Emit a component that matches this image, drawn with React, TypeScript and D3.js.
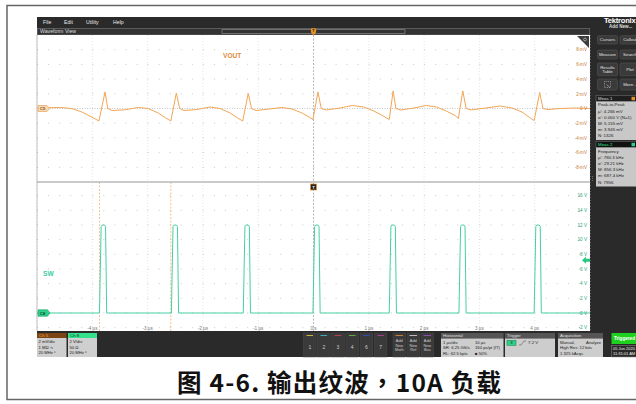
import React from 'react';
import * as d3 from 'd3';

// tick labels
const timeTicks = [-4, -3, -2, -1, 0, 1, 2, 3, 4];
const timeLabels = ['-4 µs', '-3 µs', '-2 µs', '-1 µs', '0 s', '1 µs', '2 µs', '3 µs', '4 µs'];
const voutTicks = [8, 6, 4, 2, 0, -2, -4, -6, -8];
const voutLabels = ['8 mV', '6 mV', '4 mV', '2 mV', '0 V', '-2 mV', '-4 mV', '-6 mV', '-8 mV'];
const swTicks = [16, 14, 12, 10, 8, 6, 4, 2, 0, -2];
const swLabels = ['16 V', '14 V', '12 V', '10 V', '8 V', '6 V', '4 V', '2 V', '0 V', '-2 V'];

// VOUT (Ch 5), [µs, mV]
const voutTrace: [number, number][] = [
    [-5.0, 0], [-4.8, 0.1], [-4.58, 0.14], [-4.37, 0], [-4.19, -0.48], [-4.01, -1.16], [-3.88, -1.7],
    [-3.77, 2.25], [-3.72, 0], [-3.64, -0.27], [-3.41, -0.18], [-3.17, 0.14], [-2.99, 0], [-2.81, -0.6], [-2.67, -1.3], [-2.58, -1.7],
    [-2.48, 2.1], [-2.42, 0], [-2.34, -0.27], [-2.11, -0.14], [-1.87, 0.2], [-1.69, 0], [-1.51, -0.6], [-1.37, -1.3], [-1.28, -1.7],
    [-1.18, 2.05], [-1.12, 0], [-1.04, -0.27], [-0.79, -0.07], [-0.57, 0.14], [-0.39, -0.07], [-0.21, -0.6], [-0.08, -1.16], [-0.01, -1.5],
    [0.08, 2.25], [0.14, 0], [0.23, -0.2], [0.48, 0.07], [0.7, 0.41], [0.91, 0.2], [1.09, -0.34], [1.26, -1.02], [1.37, -1.5],
    [1.44, 2.39], [1.49, 0], [1.58, -0.2], [1.82, 0.07], [2.04, 0.41], [2.23, 0.2], [2.4, -0.34], [2.56, -0.95], [2.62, -1.36],
    [2.7, 2.39], [2.76, 0], [2.85, -0.2], [3.12, 0.07], [3.37, 0.34], [3.59, 0.07], [3.77, -0.48], [3.91, -1.23], [3.99, -1.64],
    [4.09, 2.18], [4.15, 0], [4.24, -0.14], [4.46, 0], [4.73, 0.07], [5.0, 0],
];

// SW (Ch 8), [µs, V]
const swTrace: [number, number][] = [
    [-5.0, 0],
    [-3.87, 0], [-3.84, 11.8], [-3.82, 12], [-3.78, 12], [-3.76, 11.8], [-3.74, 0],
    [-2.57, 0], [-2.54, 11.8], [-2.52, 12], [-2.48, 12], [-2.46, 11.8], [-2.44, 0],
    [-1.27, 0], [-1.24, 11.8], [-1.22, 12], [-1.18, 12], [-1.16, 11.8], [-1.14, 0],
    [-0.01, 0], [0.02, 11.8], [0.04, 12], [0.08, 12], [0.1, 11.8], [0.12, 0],
    [1.37, 0], [1.4, 11.8], [1.42, 12], [1.46, 12], [1.48, 11.8], [1.5, 0],
    [2.63, 0], [2.66, 11.8], [2.68, 12], [2.72, 12], [2.74, 11.8], [2.76, 0],
    [3.99, 0], [4.02, 11.8], [4.04, 12], [4.08, 12], [4.1, 11.8], [4.12, 0],
    [5.0, 0],
];

const gateMarks = [-3.87, -2.58];
const triggerLevel = 7.2;

const menuItems = ['File', 'Edit', 'Utility', 'Help'];
const panelButtons = [['Cursors', 'Callout'], ['Measure', 'Search'], ['Results|Table', 'Plot'], ['', 'More...']];
const meas1Lines = ['Peak-to-Peak', "µ': 4.266 mV", "σ': 0.000 V (N=1)", 'M: 5.155 mV', 'm: 3.945 mV', 'N: 1326'];
const meas2Lines = ['Frequency', "µ': 780.3 kHz", "σ': 29.21 kHz", 'M: 856.3 kHz', 'm: 687.4 kHz', 'N: 7956'];
const ch5Lines = ['2 mV/div', '1 MΩ  ∿', '20 MHz  ⁿ'];
const ch8Lines = ['2 V/div', '50 Ω', '20 MHz  ⁿ'];
const chanButtons = [
    { label: '1', color: '#e8d040' }, { label: '2', color: '#3cc8d8' }, { label: '3', color: '#d84058' },
    { label: '4', color: '#70c040' }, { label: '6', color: '#3050d0' }, { label: '7', color: '#c040a8' },
];
const addButtons = [{ label: 'Math', color: '#e89030' }, { label: 'Ref', color: '#dddddd' }, { label: 'Bus', color: '#a050d0' }];
const horizLines = [['1 µs/div', '10 µs'], ['SR: 6.25 GS/s', '160 ps/pt (IT)'], ['RL: 62.5 kpts', '■ 50%']];
const acqLines = ['High Res: 12 bits', '1.325 kAcqs'];

const UI = 'Liberation Sans, Arial, sans-serif';

export default function App() {
    const L = 37, R = 590, T = 35, MID = 182, B = 331;

    const x = d3.scaleLinear().domain([-5, 5]).range([L, R]);
    const yV = d3.scaleLinear().domain([-10, 10]).range([MID, T]);
    const yS = d3.scaleLinear().domain([0, 12]).range([313, 225]);

    const lineV = d3.line<[number, number]>().x(d => x(d[0])).y(d => yV(d[1]));
    const lineS = d3.line<[number, number]>().x(d => x(d[0])).y(d => yS(d[1]));

    const vGrid = d3.range(-5, 5.01, 1);
    const hGridV = d3.range(-8, 8.01, 2);
    const hGridS = d3.range(-2, 16.01, 2);

    return (
        <svg width={636} height={404} style={{ position: 'absolute', left: 0, top: 0, background: '#fff' }}>
            <defs>
                <clipPath id="clipTop"><rect x={L} y={T} width={R - L} height={MID - T} /></clipPath>
                <clipPath id="clipBot"><rect x={L} y={MID} width={R - L} height={B - MID} /></clipPath>
            </defs>

            {/* figure frame */}
            <rect x={7} y={5.5} width={640} height={394} fill="none" stroke="#666" strokeWidth={1.5} />

            {/* scope screen background */}
            <rect x={L} y={17} width={636 - L} height={340} fill="#2a2a2a" />
            {menuItems.map((m, i) => (
                <text key={m} x={[43, 64, 86, 113][i]} y={24} fontSize={5.2} fill="#e8e8e8" fontFamily={UI}>{m}</text>
            ))}
            <rect x={L + 0.5} y={28.5} width={R - L - 1} height={6.5} fill="#333" stroke="#7a7a7a" strokeWidth={0.6} />
            <text x={40} y={33.2} fontSize={5.2} fill="#ddd" fontFamily={UI}>Waveform View</text>
            <rect x={222} y={29.7} width={183} height={3.6} fill="none" stroke="#999" strokeWidth={0.6} />

            {/* plot area */}
            <rect x={L} y={T} width={R - L} height={B - T} fill="#fff" />

            {/* grid */}
            {vGrid.map(t => (
                <line key={'vg' + t} x1={x(t)} x2={x(t)} y1={T} y2={B}
                    stroke={t === 0 ? '#9a9a9a' : '#d4d4d4'} strokeWidth={t === 0 ? 0.7 : 0.6}
                    strokeDasharray={t === 0 ? '2,1.5' : '1,2'} />
            ))}
            {hGridV.map(v => (
                <line key={'hv' + v} x1={L} x2={R} y1={yV(v)} y2={yV(v)}
                    stroke={v === 0 ? '#aaa' : '#c4c4c4'} strokeWidth={v === 0 ? 0.7 : 0.9}
                    strokeDasharray={v === 0 ? '1,1.5' : '1,10.06'} />
            ))}
            {hGridS.map(v => (
                <line key={'hs' + v} x1={L} x2={R} y1={yS(v)} y2={yS(v)}
                    stroke="#c4c4c4" strokeWidth={0.9} strokeDasharray="1,10.06" />
            ))}

            {/* gating markers in lower pane */}
            {gateMarks.map(t => (
                <line key={'gm' + t} x1={x(t)} x2={x(t)} y1={MID} y2={B}
                    stroke="#f0a860" strokeWidth={0.7} strokeDasharray="2,1.5" />
            ))}

            {/* pane separator */}
            <line x1={L} x2={R} y1={MID} y2={MID} stroke="#b8b8b8" strokeWidth={1.5} />
            <line x1={L} x2={L} y1={T} y2={B} stroke="#999" strokeWidth={0.6} />

            {/* traces */}
            <path d={lineV(voutTrace) || ''} fill="none" stroke="#f3a656" strokeWidth={1} clipPath="url(#clipTop)" />
            <path d={lineS(swTrace) || ''} fill="none" stroke="#45cfa5" strokeWidth={1} clipPath="url(#clipBot)" />

            {/* axis labels */}
            {voutTicks.map((v, i) => (
                <text key={'vl' + v} x={587} y={yV(v) + 1.7} fontSize={4.6} textAnchor="end" fill="#c87a30" fontFamily={UI}>{voutLabels[i]}</text>
            ))}
            {swTicks.map((v, i) => (
                <text key={'sl' + v} x={587} y={yS(v) + 1.7} fontSize={4.6} textAnchor="end" fill="#2a9f80" fontFamily={UI}>{swLabels[i]}</text>
            ))}
            {timeTicks.map((t, i) => (
                <text key={'tl' + t} x={x(t)} y={329.8} fontSize={4.6} textAnchor="middle" fill="#777" fontFamily={UI}>{timeLabels[i]}</text>
            ))}

            <text x={223} y={58} fontSize={6.6} fontWeight="bold" fill="#e08a3a" fontFamily={UI}>VOUT</text>
            <text x={43} y={275.5} fontSize={6.6} fontWeight="bold" fill="#3cc9a0" fontFamily={UI}>SW</text>

            {/* channel markers */}
            <polygon points={`38,${yV(0) - 3} 47,${yV(0) - 3} 49.5,${yV(0)} 47,${yV(0) + 3} 38,${yV(0) + 3}`} fill="#f8d9b0" stroke="#e09a50" strokeWidth={0.6} />
            <text x={40} y={yV(0) + 1.5} fontSize={4} fontWeight="bold" fill="#7a4a18" fontFamily={UI}>C5</text>
            <polygon points={`38,${yS(0) - 3.2} 47.5,${yS(0) - 3.2} 50,${yS(0)} 47.5,${yS(0) + 3.2} 38,${yS(0) + 3.2}`} fill="#2fd18c" stroke="#1a9a60" strokeWidth={0.6} />
            <text x={40} y={yS(0) + 1.5} fontSize={4} fontWeight="bold" fill="#0c4a2a" fontFamily={UI}>C8</text>

            {/* trigger level */}
            {(() => {
                const ty = yS(triggerLevel);
                return <polygon points={`582,${ty} 586,${ty - 3.5} 586,${ty - 1.5} 590,${ty - 1.5} 590,${ty + 1.5} 586,${ty + 1.5} 586,${ty + 3.5}`} fill="#22c97e" />;
            })()}

            {/* trigger position markers */}
            <rect x={x(0) - 2.6} y={28.3} width={5.2} height={4.6} rx={1} fill="#e8902a" />
            <text x={x(0)} y={32} fontSize={3.8} textAnchor="middle" fontWeight="bold" fill="#3a2000" fontFamily={UI}>T</text>
            <polygon points={`${x(0) - 2},32.8 ${x(0) + 2},32.8 ${x(0)},35.5`} fill="#e8902a" />
            <rect x={x(0) - 3} y={184} width={6} height={6} fill="#222" stroke="#e8902a" strokeWidth={0.7} />
            <text x={x(0)} y={188.6} fontSize={4.2} textAnchor="middle" fontWeight="bold" fill="#fff" fontFamily={UI}>T</text>

            {/* corner zoom tab */}
            <polygon points={`577,${T + 1} ${R - 1},${T + 1} ${R - 1},${T + 13}`} fill="#3c3c3c" />
            <circle cx={585} cy={39.5} r={1.4} fill="none" stroke="#eee" strokeWidth={0.5} />

            {/* right panel */}
            <text x={604} y={22.5} fontSize={7.5} fontWeight="bold" fill="#fff" fontFamily={UI} letterSpacing={-0.2}>Tektronix</text>
            <text x={609} y={27.5} fontSize={4.6} fontWeight="bold" fill="#ddd" fontFamily={UI}>Add New...</text>
            {panelButtons.map((row, ri) => {
                const ys = [[35.7, 44], [50, 59], [63, 75.7], [79, 90]][ri];
                return row.map((lab, ci) => {
                    const bx = ci === 0 ? 597.5 : 620;
                    const cx = bx + 10;
                    const parts = lab.split('|');
                    const cy = (ys[0] + ys[1]) / 2;
                    return (
                        <g key={'pb' + ri + ci}>
                            <rect x={bx} y={ys[0]} width={20} height={ys[1] - ys[0]} rx={1.5} fill="#3a3a3a" stroke="#555" strokeWidth={0.6} />
                            {parts.map((p, pi) => (
                                <text key={pi} x={cx} y={cy + 1.6 + (pi - (parts.length - 1) / 2) * 4.8} fontSize={4.4} textAnchor="middle" fill="#e0e0e0" fontFamily={UI}>{p}</text>
                            ))}
                            {lab === '' && (
                                <g stroke="#ddd" strokeWidth={0.5} fill="none">
                                    <rect x={cx - 3} y={cy - 3} width={6} height={6} strokeDasharray="1,0.8" />
                                    <line x1={cx - 1} y1={cy} x2={cx + 2} y2={cy + 2.5} />
                                </g>
                            )}
                        </g>
                    );
                });
            })}

            <rect x={596} y={95.5} width={42} height={6} fill="#1e1e1e" stroke="#777" strokeWidth={0.5} />
            <text x={598} y={100.2} fontSize={4.4} fill="#ddd" fontFamily={UI}>Meas 1</text>
            <rect x={631.5} y={96.8} width={3.5} height={3.5} fill="#e8902a" />
            <rect x={596} y={101.5} width={42} height={38.5} fill="#c8c8c8" />
            {meas1Lines.map((s, i) => (
                <text key={'m1' + i} x={598} y={106.3 + i * 6.2} fontSize={4.4} fill="#222" fontFamily={UI}>{s}</text>
            ))}
            <rect x={596} y={141.5} width={42} height={6} fill="#111" stroke="#777" strokeWidth={0.5} />
            <text x={598} y={146.2} fontSize={4.4} fill="#2fe08a" fontFamily={UI}>Meas 2</text>
            <rect x={631.5} y={142.8} width={3.5} height={3.5} fill="#2fd18c" />
            <rect x={596} y={147.5} width={42} height={39} fill="#c8c8c8" />
            {meas2Lines.map((s, i) => (
                <text key={'m2' + i} x={598} y={152.6 + i * 6.2} fontSize={4.4} fill="#222" fontFamily={UI}>{s}</text>
            ))}
            <text x={592.3} y={180} fontSize={5} fill="#aaa" textAnchor="middle" fontFamily={UI}>⋮</text>

            {/* bottom bar: channels */}
            <rect x={37} y={333} width={29.5} height={5} fill="#7a4512" />
            <text x={39} y={337.2} fontSize={4.4} fill="#f2a040" fontFamily={UI}>Ch 5</text>
            <rect x={37} y={338} width={29.5} height={19} fill="#cfcfcf" />
            {ch5Lines.map((s, i) => (
                <text key={'c5' + i} x={38.5} y={343.2 + i * 5.6} fontSize={4.2} fill="#222" fontFamily={UI}>{s}</text>
            ))}
            <rect x={68} y={333} width={29} height={5} fill="#33e08c" />
            <text x={70} y={337.2} fontSize={4.4} fill="#0a3a20" fontFamily={UI}>Ch 8</text>
            <rect x={68} y={338} width={29} height={19} fill="#cfcfcf" />
            {ch8Lines.map((s, i) => (
                <text key={'c8' + i} x={69.5} y={343.2 + i * 5.6} fontSize={4.2} fill="#222" fontFamily={UI}>{s}</text>
            ))}

            {chanButtons.map((b, i) => {
                const bx = i === 0 ? 303.5 : 317.5 + (i - 1) * 14.2;
                return (
                    <g key={'cb' + b.label}>
                        <rect x={bx} y={333} width={12.6} height={24} fill="#3a3a3a" stroke="#4a4a4a" strokeWidth={0.5} />
                        <line x1={bx + 3} x2={bx + 9.6} y1={335.5} y2={335.5} stroke={b.color} strokeWidth={0.8} />
                        <text x={bx + 6.3} y={348.5} fontSize={5} textAnchor="middle" fill="#ccc" fontFamily={UI}>{b.label}</text>
                    </g>
                );
            })}
            {addButtons.map((b, i) => {
                const bx = 393 + i * 14;
                return (
                    <g key={'ab' + b.label}>
                        <rect x={bx} y={333} width={12.6} height={24} fill="#3a3a3a" stroke="#4a4a4a" strokeWidth={0.5} />
                        <line x1={bx + 2.5} x2={bx + 10} y1={335.5} y2={335.5} stroke={b.color} strokeWidth={0.8} />
                        {['Add', 'New', b.label].map((s, j) => (
                            <text key={j} x={bx + 6.3} y={342 + j * 4.6} fontSize={3.9} textAnchor="middle" fill="#ccc" fontFamily={UI}>{s}</text>
                        ))}
                    </g>
                );
            })}

            {/* horizontal */}
            <rect x={441} y={333} width={62.5} height={5.5} fill="#555" />
            <text x={443} y={337.4} fontSize={4.4} fill="#e0e0e0" fontFamily={UI}>Horizontal</text>
            <rect x={441} y={338.5} width={62.5} height={18.5} fill="#cdcdcd" />
            {horizLines.map((r, i) => (
                <g key={'hz' + i}>
                    <text x={443} y={343.6 + i * 5.6} fontSize={4.2} fill="#222" fontFamily={UI}>{r[0]}</text>
                    <text x={475} y={343.6 + i * 5.6} fontSize={4.2} fill="#222" fontFamily={UI}>{r[1]}</text>
                </g>
            ))}

            {/* trigger */}
            <rect x={505} y={333} width={50} height={5.5} fill="#555" />
            <text x={507} y={337.4} fontSize={4.4} fill="#e0e0e0" fontFamily={UI}>Trigger</text>
            <rect x={505} y={338.5} width={50} height={18.5} fill="#cdcdcd" />
            <rect x={507} y={340.3} width={9} height={5} fill="#2fd18c" stroke="#117a48" strokeWidth={0.5} />
            <text x={511.5} y={344.2} fontSize={3.8} textAnchor="middle" fill="#0a3a20" fontFamily={UI}>8</text>
            <path d="M519,345 L521,345 L524,341 L526,341" fill="none" stroke="#444" strokeWidth={0.5} />
            <text x={528} y={344.4} fontSize={4.4} fill="#222" fontFamily={UI}>{`${triggerLevel} V`}</text>

            {/* acquisition */}
            <rect x={558} y={333} width={45} height={5.5} fill="#555" />
            <text x={560} y={337.4} fontSize={4.4} fill="#e0e0e0" fontFamily={UI}>Acquisition</text>
            <rect x={558} y={338.5} width={45} height={18.5} fill="#cdcdcd" />
            <text x={560} y={343.6} fontSize={4.2} fill="#222" fontFamily={UI}>Manual,</text>
            <text x={601} y={343.6} fontSize={4.2} textAnchor="end" fill="#222" fontFamily={UI}>Analyze</text>
            {acqLines.map((s, i) => (
                <text key={'aq' + i} x={560} y={349.2 + i * 5.6} fontSize={4.2} fill="#222" fontFamily={UI}>{s}</text>
            ))}

            {/* triggered status */}
            <rect x={611.5} y={333} width={26} height={11} fill="#1fd11f" />
            <text x={614} y={340.2} fontSize={4.6} fontWeight="bold" fill="#fff" fontFamily={UI}>Triggered</text>
            <rect x={611.5} y={345.5} width={26} height={11.5} fill="#2a2a2a" stroke="#888" strokeWidth={0.5} />
            <text x={613} y={350.3} fontSize={4} fill="#eee" fontFamily={UI}>05 Jun 2020</text>
            <text x={613} y={355.3} fontSize={4} fill="#eee" fontFamily={UI}>11:31:01 AM</text>

            {/* caption */}
            <text x={339} y={391.5} fontSize={24.5} fontWeight="bold" textAnchor="middle" fill="#111"
                fontFamily="Noto Sans CJK SC, sans-serif" textLength={324} lengthAdjust="spacing">
                图 4-6. 输出纹波<tspan fontFamily="Noto Sans CJK TC, sans-serif">，</tspan>10A 负载
            </text>
        </svg>
    );
}
